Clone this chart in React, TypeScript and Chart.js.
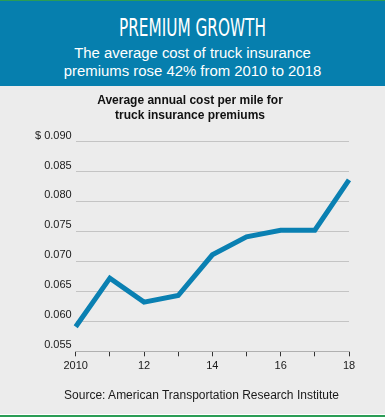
import React, { useEffect, useRef } from "react";
import { Chart, registerables } from "chart.js";

Chart.register(...registerables);

const years = ["2010", "2011", "2012", "2013", "2014", "2015", "2016", "2017", "2018"];
const xTickLabels = ["2010", "", "12", "", "14", "", "16", "", "18"];
const costPerMile = [0.0591, 0.0672, 0.0632, 0.0643, 0.0711, 0.0741, 0.0752, 0.0752, 0.0836];
const yMin = 0.055;
const yMax = 0.09;
const yStep = 0.005;

const chartTitle = ["Average annual cost per mile for", "truck insurance premiums"];
const sourceText = "Source: American Transportation Research Institute";
const bannerTitle = "PREMIUM GROWTH";
const bannerSub = ["The average cost of truck insurance", "premiums rose 42% from 2010 to 2018"];

const FONT = "'Liberation Sans', Arial, Helvetica, sans-serif";

export default function App() {
  const ref = useRef<HTMLCanvasElement>(null);

  useEffect(() => {
    if (!ref.current) return;
    const chart = new Chart(ref.current, {
      type: "line",
      data: {
        labels: years,
        datasets: [
          {
            data: costPerMile,
            borderColor: "#0a80b2",
            borderWidth: 5,
            pointRadius: 0,
            tension: 0,
            fill: false,
            borderJoinStyle: "miter",
            borderCapStyle: "butt",
          },
        ],
      },
      options: {
        animation: false,
        responsive: false,
        maintainAspectRatio: false,
        layout: { padding: { left: 31, right: 36, top: 0, bottom: 36.5 } },
        plugins: {
          legend: { display: false },
          tooltip: { enabled: false },
          title: {
            display: true,
            text: chartTitle,
            color: "#111",
            font: { family: FONT, size: 12, weight: "bold", lineHeight: 1.25 },
            padding: { top: 7, bottom: 18.5 },
          },
        },
        scales: {
          x: {
            type: "category",
            offset: false,
            grid: {
              drawOnChartArea: false,
              drawTicks: true,
              tickLength: 5,
              tickColor: "#333",
            },
            border: { display: true, color: "#b0b0b0", width: 1 },
            ticks: {
              autoSkip: false,
              maxRotation: 0,
              padding: 3,
              color: "#1a1a1a",
              font: { family: FONT, size: 11 },
              callback: (_v: any, i: number) => xTickLabels[i],
            },
          },
          y: {
            min: yMin,
            max: yMax,
            grid: { color: "#c4c4c4", lineWidth: 1, drawTicks: false },
            border: { display: false },
            ticks: {
              stepSize: yStep,
              padding: 4,
              labelOffset: -6,
              color: "#1a1a1a",
              font: { family: FONT, size: 11 },
              callback: (v: any) => {
                const n = Number(v);
                const s = n.toFixed(3);
                return Math.abs(n - yMax) < 1e-9 ? "$ " + s : s;
              },
            },
          },
        },
      },
    });
    return () => chart.destroy();
  }, []);

  return (
    <div
      style={{
        position: "fixed",
        top: 0,
        left: 0,
        width: 385,
        height: 417,
        background: "#ffffff",
        overflow: "hidden",
        fontFamily: FONT,
      }}
    >
      <div style={{ position: "absolute", top: 0, left: 0, width: 385, height: 1, background: "#2a9d55" }} />
      <div
        style={{
          position: "absolute",
          top: 1,
          left: 0,
          width: 385,
          height: 85,
          background: "#067fae",
          color: "#fff",
          textAlign: "center",
        }}
      >
        <div
          style={{
            position: "absolute",
            top: 12,
            left: 0,
            width: 385,
            fontFamily: "'Liberation Sans Narrow', 'DejaVu Sans Condensed', " + FONT,
            fontSize: 25,
            lineHeight: "30px",
            transform: "scaleX(0.68)",
          }}
        >
          {bannerTitle}
        </div>
        <div
          style={{
            position: "absolute",
            top: 43,
            left: 0,
            width: 385,
            fontSize: 14.9,
            lineHeight: "18px",
          }}
        >
          <div>{bannerSub[0]}</div>
          <div>{bannerSub[1]}</div>
        </div>
      </div>
      <div style={{ position: "absolute", top: 86, left: 0, width: 385, height: 328, background: "#ececec" }}>
        <canvas ref={ref} width={385} height={326} style={{ display: "block", width: 385, height: 326 }} />
        <div
          style={{
            position: "absolute",
            top: 300,
            left: 9,
            width: 385,
            textAlign: "center",
            fontSize: 12,
            lineHeight: "18px",
            color: "#1a1a1a",
          }}
        >
          {sourceText}
        </div>
      </div>
      <div style={{ position: "absolute", top: 415, left: 0, width: 385, height: 2, background: "#2a9d55" }} />
    </div>
  );
}
